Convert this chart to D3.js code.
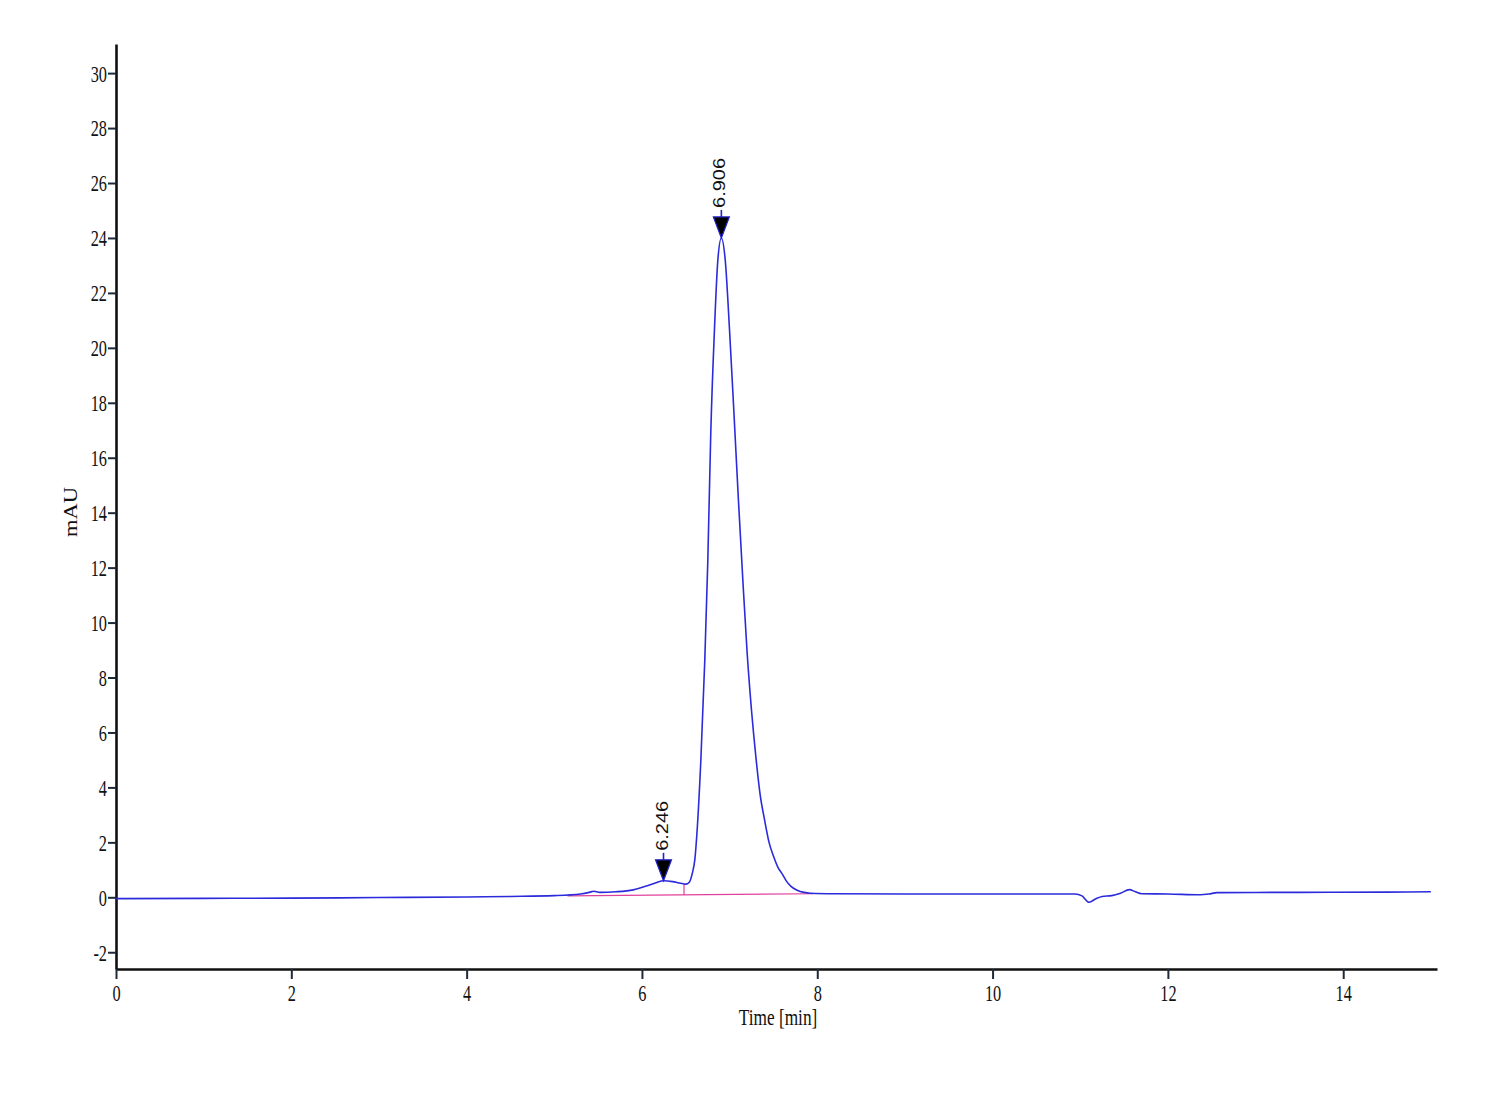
<!DOCTYPE html>
<html>
<head>
<meta charset="utf-8">
<script src="https://cdn.jsdelivr.net/npm/d3@7"></script>
<style>
  body { margin: 0; background: #fff; }
  svg { display: block; }
</style>
</head>
<body>
<script>
// chromatogram trace
const timeMin = [0, 1, 2, 3, 4, 4.5, 5.0, 5.3, 5.4, 5.45, 5.52, 5.7, 5.9, 6.06, 6.16, 6.246, 6.35, 6.44, 6.5, 6.54,
  6.575, 6.603, 6.632, 6.672, 6.717, 6.751, 6.786, 6.827, 6.866, 6.906, 6.95, 7.0, 7.05, 7.1, 7.15, 7.2, 7.25,
  7.3, 7.35, 7.4, 7.45, 7.5, 7.55, 7.6, 7.65, 7.7, 7.77, 7.85, 7.92, 8.2, 9, 10, 10.94, 11.02, 11.1, 11.18,
  11.25, 11.36, 11.46, 11.56, 11.63, 11.7, 12.0, 12.37, 12.47, 12.56, 13.5, 14.5, 15.0];
const mAU = [-0.05, -0.04, -0.03, -0.01, 0.01, 0.03, 0.06, 0.12, 0.18, 0.22, 0.18, 0.2, 0.27, 0.42, 0.53, 0.6, 0.57, 0.51, 0.48, 0.55,
  0.88, 1.36, 2.56, 5.0, 8.64, 12.2, 17.0, 20.65, 23.2, 24.0, 23.2, 20.6, 17.6, 14.5, 11.6, 8.9, 6.8,
  5.1, 3.7, 2.8, 2.0, 1.5, 1.1, 0.85, 0.58, 0.4, 0.26, 0.18, 0.15, 0.13, 0.12, 0.12, 0.12, 0.05, -0.18, -0.05,
  0.03, 0.06, 0.15, 0.28, 0.2, 0.13, 0.12, 0.09, 0.12, 0.17, 0.18, 0.19, 0.2];

// integration baseline and the drop line between the two peaks
const baseTimes = [5.15, 7.95];
const baseValues = [0.05, 0.13];
const dropTime = 6.48;
const dropValues = [0.08, 0.49];

// peak markers
const peakTimes = [6.246, 6.906];
const peakHeights = [0.6, 24.0];
const peakLabels = ["6.246", "6.906"];

const xTicks = [0, 2, 4, 6, 8, 10, 12, 14];
const yTicks = d3.range(-2, 31, 2);

const W = 1500, H = 1100;
const mLeft = 116, mRight = 1437, mTop = 44, mBottom = 969;

const svg = d3.select("body").append("svg").attr("width", W).attr("height", H);

const x = d3.scaleLinear().domain([0, 15.07]).range([mLeft, mRight]);
const y = d3.scaleLinear().domain([-2.61, 31.06]).range([mBottom, mTop]);

const serif = "'Liberation Serif', 'Times New Roman', serif";
const squeeze = 0.68;

// y axis
const gy = svg.append("g").attr("transform", `translate(${mLeft},0)`)
  .call(d3.axisLeft(y).tickValues(yTicks).tickSize(8).tickSizeOuter(0).tickFormat(d => String(d)));
gy.select(".domain").attr("stroke", "#111").attr("stroke-width", 2.6);
gy.selectAll(".tick line").attr("stroke", "#1e2a38").attr("stroke-width", 2);
gy.selectAll(".tick text")
  .attr("font-family", serif).attr("font-size", 24).attr("fill", "#111")
  .attr("x", -9 / squeeze).attr("dy", "0.33em")
  .attr("transform", `scale(${squeeze},1)`);

// x axis
const gx = svg.append("g").attr("transform", `translate(0,${mBottom})`)
  .call(d3.axisBottom(x).tickValues(xTicks).tickSize(10).tickSizeOuter(0).tickFormat(d => String(d)));
gx.select(".domain").attr("stroke", "#111").attr("stroke-width", 2.6);
gx.selectAll(".tick line").attr("stroke", "#1e2a38").attr("stroke-width", 2);
gx.selectAll(".tick text")
  .attr("font-family", serif).attr("font-size", 24).attr("fill", "#111")
  .attr("y", 15).attr("dy", "0.71em")
  .attr("transform", `scale(${squeeze},1)`);

// axis titles
svg.append("text")
  .attr("transform", `translate(778,1025) scale(0.72,1)`)
  .attr("text-anchor", "middle")
  .attr("font-family", serif).attr("font-size", 24).attr("fill", "#111")
  .text("Time [min]");

svg.append("text")
  .attr("transform", "translate(77,512) rotate(-90)")
  .attr("text-anchor", "middle")
  .attr("font-family", serif).attr("font-size", 18).attr("fill", "#111")
  .attr("textLength", 50).attr("lengthAdjust", "spacingAndGlyphs")
  .text("mAU");

// integration baseline
svg.append("line")
  .attr("x1", x(baseTimes[0])).attr("y1", y(baseValues[0]))
  .attr("x2", x(baseTimes[1])).attr("y2", y(baseValues[1]))
  .attr("stroke", "#e0409a").attr("stroke-width", 1.2);
svg.append("line")
  .attr("x1", x(dropTime)).attr("y1", y(dropValues[0]))
  .attr("x2", x(dropTime)).attr("y2", y(dropValues[1]))
  .attr("stroke", "#e0409a").attr("stroke-width", 1.2);

// trace
const pts = timeMin.map((t, i) => [t, mAU[i]]);
svg.append("path")
  .datum(pts)
  .attr("fill", "none")
  .attr("stroke", "#2b2bdc")
  .attr("stroke-width", 1.6)
  .attr("d", d3.line().x(d => x(d[0])).y(d => y(d[1])).curve(d3.curveMonotoneX));

// peak markers: triangle, short stem, rotated retention time
peakTimes.forEach((t, i) => {
  const px = x(t), py = y(peakHeights[i]);
  const g = svg.append("g");
  g.append("path")
    .attr("d", `M${px - 8},${py - 21} L${px + 8},${py - 21} L${px},${py} Z`)
    .attr("fill", "#000").attr("stroke", "#2222cc").attr("stroke-width", 1.2);
  g.append("line")
    .attr("x1", px).attr("x2", px).attr("y1", py - 21).attr("y2", py - 28)
    .attr("stroke", "#2222cc").attr("stroke-width", 1.6);
  g.append("text")
    .attr("transform", `translate(${px + 4},${py - 30}) rotate(-90)`)
    .attr("font-family", "'Liberation Sans', Arial, sans-serif")
    .attr("font-size", 16).attr("fill", "#111")
    .attr("textLength", 50).attr("lengthAdjust", "spacingAndGlyphs")
    .text(peakLabels[i]);
});
</script>
</body>
</html>
